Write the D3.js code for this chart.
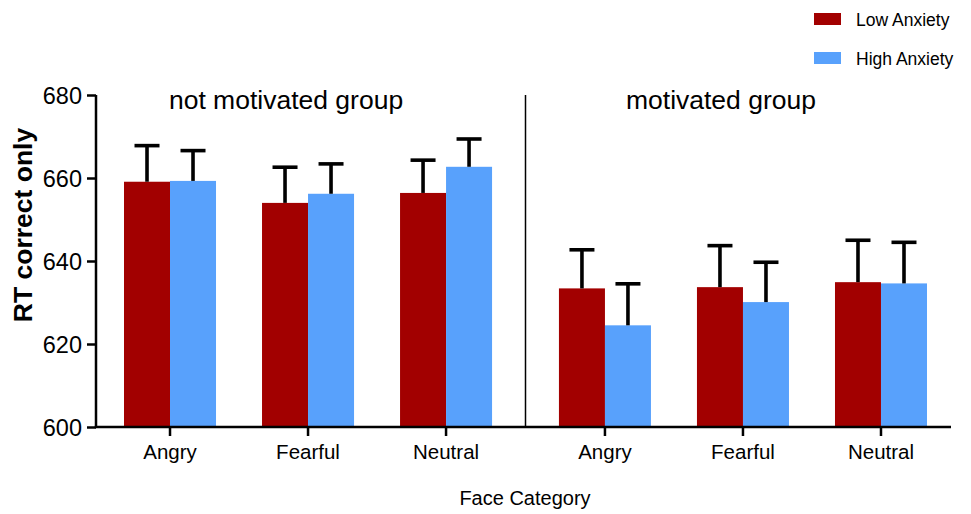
<!DOCTYPE html>
<html>
<head>
<meta charset="utf-8">
<script src="https://cdn.jsdelivr.net/npm/d3@7"></script>
<style>
  html, body { margin: 0; padding: 0; background: #fff; }
  svg { display: block; font-family: "Liberation Sans", Arial, Helvetica, sans-serif; }
</style>
</head>
<body>
<svg id="chart" width="971" height="514"></svg>
<script>
// Reaction time (correct trials) by face category, anxiety level and motivation group
const groups = ["not motivated group", "motivated group"];
const categories = ["Angry", "Fearful", "Neutral"];
const seriesNames = ["Low Anxiety", "High Anxiety"];
const seriesColors = ["#a20000", "#58a1fc"];

// means and SEM, ordered group by group: Angry, Fearful, Neutral
const lowMean  = [659.1, 654.0, 656.4, 633.4, 633.7, 634.9];
const lowSem   = [8.7, 8.6, 7.9, 9.3, 10.0, 10.1];
const highMean = [659.3, 656.2, 662.7, 624.5, 630.1, 634.6];
const highSem  = [7.3, 7.2, 6.7, 10.0, 9.6, 9.9];

const yTicks = [600, 620, 640, 660, 680];
const yTitle = "RT correct only";
const xTitle = "Face Category";

const rows = [];
groups.forEach((g, gi) => {
  categories.forEach((c, ci) => {
    const i = gi * categories.length + ci;
    rows.push({ group: g, cat: c, series: seriesNames[0], mean: lowMean[i], sem: lowSem[i] });
    rows.push({ group: g, cat: c, series: seriesNames[1], mean: highMean[i], sem: highSem[i] });
  });
});

const svg = d3.select("#chart");
const plot = { left: 96, right: 951, top: 95, bottom: 427 };

const y = d3.scaleLinear().domain([600, 680]).range([plot.bottom, plot.top]);
const xGroup = d3.scaleBand().domain(groups).range([101, 950]).paddingInner(0.048).paddingOuter(0);
const xCat = d3.scaleBand().domain(categories).range([0, xGroup.bandwidth()]).padding(0);
const xSeries = d3.scaleBand().domain(seriesNames).range([0, xCat.bandwidth()]).paddingInner(0).paddingOuter(0.5);
const color = d3.scaleOrdinal().domain(seriesNames).range(seriesColors);

const barX = d => xGroup(d.group) + xCat(d.cat) + xSeries(d.series);

// bars
svg.append("g").selectAll("rect").data(rows).join("rect")
  .attr("x", barX)
  .attr("y", d => y(d.mean))
  .attr("width", xSeries.bandwidth())
  .attr("height", d => y(600) - y(d.mean))
  .attr("fill", d => color(d.series));

// upper error bars
const capHalf = 12.5;
const err = svg.append("g").attr("stroke", "#000").attr("stroke-width", 3.6).attr("fill", "none");
err.selectAll("line.v").data(rows).join("line").attr("class", "v")
  .attr("x1", d => barX(d) + xSeries.bandwidth() / 2)
  .attr("x2", d => barX(d) + xSeries.bandwidth() / 2)
  .attr("y1", d => y(d.mean))
  .attr("y2", d => y(d.mean + d.sem));
err.selectAll("line.c").data(rows).join("line").attr("class", "c")
  .attr("x1", d => barX(d) + xSeries.bandwidth() / 2 - capHalf)
  .attr("x2", d => barX(d) + xSeries.bandwidth() / 2 + capHalf)
  .attr("y1", d => y(d.mean + d.sem))
  .attr("y2", d => y(d.mean + d.sem));

// divider between the two groups
const gap = (xGroup(groups[0]) + xGroup.bandwidth() + xGroup(groups[1])) / 2;
svg.append("line")
  .attr("x1", gap).attr("x2", gap)
  .attr("y1", plot.top).attr("y2", plot.bottom)
  .attr("stroke", "#000").attr("stroke-width", 1.5);

// y axis
const yAxis = svg.append("g").attr("transform", `translate(${plot.left},0)`)
  .call(d3.axisLeft(y).tickValues(yTicks).tickSize(9).tickPadding(5).tickFormat(d3.format("d")));
yAxis.select(".domain").attr("stroke-width", 2.5).attr("d", `M0,${plot.top}V${plot.bottom}`);
yAxis.selectAll(".tick line").attr("stroke-width", 2.5);
yAxis.selectAll(".tick text").attr("font-size", 23.5).attr("fill", "#000").attr("dy", "0.36em");

// x axis
const xAxisG = svg.append("g").attr("transform", `translate(0,${plot.bottom})`);
xAxisG.append("line")
  .attr("x1", plot.left - 1.25).attr("x2", plot.right)
  .attr("stroke", "#000").attr("stroke-width", 2.5);
groups.forEach(g => {
  const sub = xAxisG.append("g").attr("transform", `translate(${xGroup(g)},0)`)
    .call(d3.axisBottom(xCat).tickSize(9).tickPadding(8));
  sub.select(".domain").remove();
  sub.selectAll(".tick line").attr("stroke-width", 2.5);
  sub.selectAll(".tick text").attr("font-size", 20.5).attr("fill", "#000");
});

// group titles
groups.forEach(g => {
  svg.append("text")
    .attr("x", xGroup(g) + xGroup.bandwidth() / 2 - 22)
    .attr("y", 109)
    .attr("text-anchor", "middle")
    .attr("font-size", 26.5)
    .attr("fill", "#000")
    .text(g);
});

// axis titles
svg.append("text")
  .attr("transform", `translate(32,225) rotate(-90)`)
  .attr("text-anchor", "middle")
  .attr("font-size", 26.5)
  .attr("font-weight", "bold")
  .attr("fill", "#000")
  .text(yTitle);

svg.append("text")
  .attr("x", 525).attr("y", 505)
  .attr("text-anchor", "middle")
  .attr("font-size", 20)
  .attr("fill", "#000")
  .text(xTitle);

// legend
const legend = svg.append("g").attr("transform", "translate(814,13)");
seriesNames.forEach((s, i) => {
  const row = legend.append("g").attr("transform", `translate(0,${i * 39})`);
  row.append("rect").attr("width", 27).attr("height", 12).attr("fill", color(s));
  row.append("text").attr("x", 42).attr("y", 13).attr("font-size", 17.5).attr("fill", "#000").text(s);
});
</script>
</body>
</html>
